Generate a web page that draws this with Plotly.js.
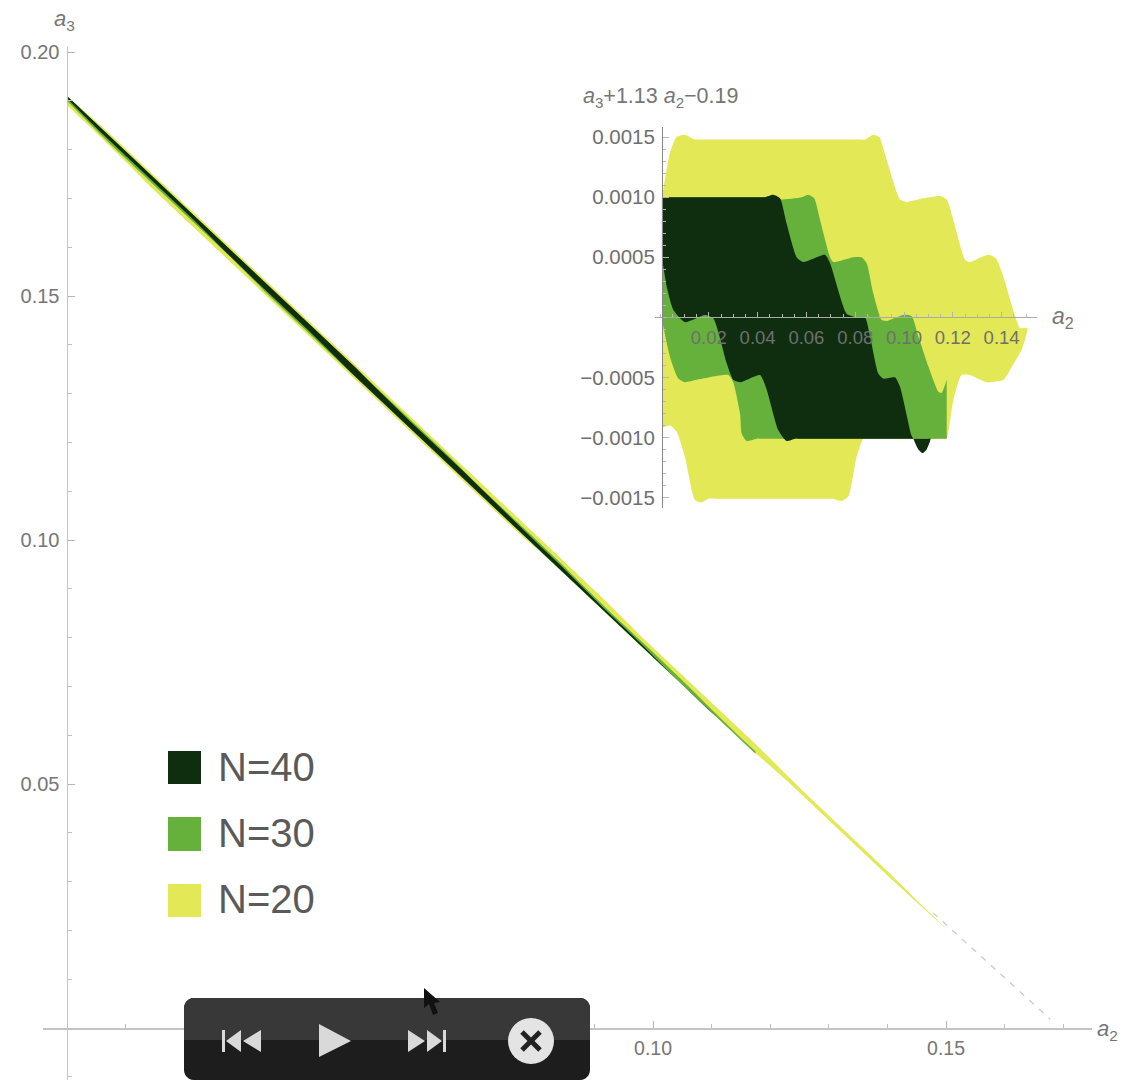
<!DOCTYPE html>
<html><head><meta charset="utf-8">
<script src="https://cdn.plot.ly/plotly-3.0.1.min.js"></script>
<style>html,body{margin:0;padding:0;background:#fff}#c{width:1123px;height:1080px}</style>
</head><body><div id="c"></div>
<script>
// Values: a2 and the residual a3+1.13 a2-0.19 along each region's boundary
const n20A2 = [.0008,.0041,.0068,.0102,.0143,.0170,.0810,.0840,.0874,.0899,.0922,.0984,.1011,.1079,.1147,.1175,.1250,.1270,.1345,.1377,.1407,.1455,.1475,.1505,.1482,.1434,.1407,.1339,.1270,.1236,.1202,.1175,.1165,.0845,.0833,.0806,.0772,.0744,.0710,.0690,.0225,.0198,.0171,.0143,.0102,.0068,.0041,.0008];
const n20R  = [.00100,.00137,.00150,.00152,.00148,.00148,.00148,.00148,.00152,.00150,.00136,.00098,.00096,.00099,.00101,.00098,.00048,.00046,.00052,.00049,.00034,.00001,-.00009,-.00009,-.00027,-.00044,-.00052,-.00054,-.00048,-.00048,-.00069,-.00101,-.00101,-.00101,-.00101,-.00116,-.00149,-.00153,-.00151,-.00151,-.00151,-.00151,-.00154,-.00152,-.00116,-.00095,-.00090,-.00092];
const n30A2 = [.0008,.0020,.0420,.0437,.0492,.0581,.0608,.0632,.0656,.0697,.0710,.0792,.0826,.0847,.0874,.0908,.0929,.0997,.1031,.1059,.1100,.1141,.1154,.1172,.1175,.1175,.1175,.1175,.1160,.0410,.0396,.0355,.0335,.0328,.0300,.0280,.0150,.0102,.0075,.0041,.0008];
const n30R  = [.00100,.00100,.00100,.00100,.00098,.00100,.00102,.00099,.00081,.00050,.00046,.00050,.00050,.00045,.00020,-.00002,-.00003,.00002,.00001,-.00016,-.00041,-.00062,-.00063,-.00054,-.00052,-.00056,-.00097,-.00101,-.00101,-.00101,-.00101,-.00103,-.00097,-.00080,-.00054,-.00048,-.00052,-.00054,-.00051,-.00033,-.00002];
const n40A2 = [.0008,.0020,.0415,.0430,.0464,.0492,.0519,.0560,.0587,.0676,.0697,.0765,.0806,.0840,.0861,.0895,.0915,.0963,.0984,.1030,.1038,.1059,.1076,.1093,.1109,.1100,.1038,.0565,.0553,.0519,.0485,.0437,.0410,.0328,.0300,.0273,.0219,.0184,.0102,.0055,.0027,.0008];
const n40R  = [.00100,.00100,.00100,.00100,.00102,.00099,.00078,.00050,.00046,.00052,.00045,.00003,.00000,.00000,-.00016,-.00047,-.00051,-.00050,-.00058,-.00098,-.00101,-.00110,-.00113,-.00110,-.00101,-.00101,-.00101,-.00101,-.00101,-.00103,-.00094,-.00060,-.00048,-.00054,-.00052,-.00038,-.00001,.00002,-.00004,.00006,.00026,.00050];
const tailA2 = [.1478,.1678];
const tailA3 = [.0236,.0018];
const seriesNames = ['N=40','N=30','N=20'];
const seriesColors = ['#0f2e10','#66b03c','#e2e856'];
const mainXTicks = [.05,.10,.15];
const mainYTicks = [.05,.10,.15,.20];
const insetXTicks = [.02,.04,.06,.08,.10,.12,.14];
const insetYTicks = [-.0015,-.0010,-.0005,.0005,.0010,.0015];

const W=1123,H=1080, L=43,R=1092,T=47,B=1080;
const fx=x=>(x-L)/(R-L), fy=y=>(B-y)/(B-T);   // plot-area paper coordinates
const toMainX=a=>a.map(v=>v===.0008?0:v);     // the inset's left edge is the a2=0 edge of the main plot
const toA3=(a,r)=>a.map((v,i)=>0.19-1.13*v+r[i]);
const grey='#767676', fam='"Liberation Sans",Arial,sans-serif';

function band(x,y,color,xa,ya,smooth){
  return {type:'scatter',mode:'lines',x:x,y:y,fill:'toself',fillcolor:color,
    line:{width:0,color:color,shape:smooth?'spline':'linear',smoothing:.55},
    xaxis:xa,yaxis:ya,hoverinfo:'skip',showlegend:false};
}
const traces=[
  band(toMainX(n20A2),toA3(toMainX(n20A2),n20R),seriesColors[2],'x','y'),
  band(toMainX(n30A2),toA3(toMainX(n30A2),n30R),seriesColors[1],'x','y'),
  band(toMainX(n40A2),toA3(toMainX(n40A2),n40R),seriesColors[0],'x','y'),
  {type:'scatter',mode:'lines',x:tailA2,y:tailA3,line:{color:'#c8c8c8',width:1.2,dash:'6px,7px'},xaxis:'x',yaxis:'y',hoverinfo:'skip',showlegend:false},
  band(n20A2,n20R,seriesColors[2],'x2','y2',true),
  band(n30A2,n30R,seriesColors[1],'x2','y2',true),
  band(n40A2,n40R,seriesColors[0],'x2','y2',true)
];

// decoration: legend swatches and the video player bar on top of the screenshot
function rect(x0,y0,x1,y1,c){return {type:'rect',xref:'paper',yref:'paper',x0:fx(x0),x1:fx(x1),y0:fy(y0),y1:fy(y1),fillcolor:c,line:{width:0},layer:'above'};}
function poly(pts,c,close=true,lw=0){
  const d=pts.map((p,i)=>(i?'L':'M')+fx(p[0]).toFixed(5)+','+fy(p[1]).toFixed(5)).join(' ')+(close?' Z':'');
  return {type:'path',xref:'paper',yref:'paper',path:d,fillcolor:close?c:'rgba(0,0,0,0)',line:{width:lw,color:c},layer:'above'};
}
function rounded(x0,y0,x1,y1,r,c){
  const pts=[];const arc=(cx,cy,a0)=>{for(let k=0;k<=6;k++){const a=a0+k*Math.PI/12;pts.push([cx+r*Math.cos(a),cy+r*Math.sin(a)]);}};
  arc(x0+r,y0+r,Math.PI);arc(x1-r,y0+r,1.5*Math.PI);arc(x1-r,y1-r,0);arc(x0+r,y1-r,.5*Math.PI);
  return poly(pts,c);
}
function circle(cx,cy,r,c){return {type:'circle',xref:'paper',yref:'paper',x0:fx(cx-r),x1:fx(cx+r),y0:fy(cy+r),y1:fy(cy-r),fillcolor:c,line:{width:0},layer:'above'};}
const ic='#d9d9d9';
const shapes=[
  rect(168,751,201,784,seriesColors[0]),
  rect(168,817,201,851,seriesColors[1]),
  rect(168,884,201,917,seriesColors[2]),
  rounded(184,998,590,1080,10,'#1d1d1d'),
  rounded(184,998,590,1040,10,'#383838'),
  rect(184,1030,590,1040,'#383838'),
  // previous
  rect(222,1030,225,1052,ic), poly([[241,1030],[241,1052],[226,1041]],ic), poly([[261,1030],[261,1052],[243,1041]],ic),
  // play
  poly([[319,1024],[319,1057],[351,1041]],ic),
  // next
  rect(443,1030,446,1052,ic), poly([[408,1030],[408,1052],[425,1041]],ic), poly([[427,1030],[427,1052],[442,1041]],ic),
  // close
  circle(531,1041,23,'#e4e4e4'),
  poly([[522,1032],[540,1050]],'#222',false,5), poly([[540,1032],[522,1050]],'#222',false,5),
  // pointer
  poly([[424,988],[424,1008],[429,1004],[433,1015],[438,1013],[434,1003],[440,1002]],'#111')
];
function note(x,y,text,size,anchor='center',color=grey){
  return {xref:'paper',yref:'paper',x:fx(x),y:fy(y),text:text,showarrow:false,xanchor:anchor,yanchor:'middle',
    font:{family:fam,size:size,color:color},align:'left'};
}
const annotations=[
  note(64,20,'<i>a</i><sub>3</sub>',22),
  note(1107,1030,'<i>a</i><sub>2</sub>',22),
  note(581,97,'<i>a</i><sub>3</sub>+1.13 <i>a</i><sub>2</sub>\u22120.19',21.5,'left'),
  note(1063,318,'<i>a</i><sub>2</sub>',23),
  note(216,767,seriesNames[0],40,'left','#5a5a5a'),
  note(216,833,seriesNames[1],40,'left','#5a5a5a'),
  note(216,899,seriesNames[2],40,'left','#5a5a5a')
];
const axisBase={showgrid:false,zeroline:false,showline:true,linecolor:'#c4c4c4',linewidth:1.5,ticks:'inside',tickcolor:'#b4b4b4',tickwidth:1,anchor:'free'};
const layout={
  width:W,height:H,margin:{l:L,r:W-R,t:T,b:H-B,pad:0},paper_bgcolor:'#fff',plot_bgcolor:'#fff',showlegend:false,
  xaxis:{...axisBase,domain:[0,1],range:[(L-67)/5860,(R-67)/5860],position:fy(1028),tickmode:'array',tickvals:mainXTicks,tickformat:'.2f',ticklen:7,ticklabelstandoff:2,
    tickfont:{family:fam,size:19.5,color:grey},minor:{ticks:'inside',ticklen:4,dtick:.01,tick0:0,tickcolor:'#c0c0c0',showgrid:false}},
  yaxis:{...axisBase,domain:[0,1],range:[(1028-B)/4880,(1028-T)/4880],position:fx(66.5),tickmode:'array',tickvals:mainYTicks,tickformat:'.2f',ticklen:7,ticklabelstandoff:3,
    tickfont:{family:fam,size:20,color:grey},minor:{ticks:'inside',ticklen:4,dtick:.01,tick0:0,tickcolor:'#c0c0c0',showgrid:false}},
  xaxis2:{...axisBase,linecolor:'#aaaaaa',linewidth:1,domain:[fx(655),fx(1037)],range:[(655-660)/2440,(1037-660)/2440],position:fy(317.3),tickmode:'array',tickvals:insetXTicks,tickformat:'.2f',ticklen:5,ticklabelstandoff:3,
    tickfont:{family:fam,size:18.5,color:'#6f6f6f'},minor:{ticks:'inside',ticklen:3,dtick:.005,tick0:0,tickcolor:'#b8b8b8',showgrid:false}},
  yaxis2:{...axisBase,linecolor:'#888888',linewidth:1,domain:[fy(508),fy(127)],range:[(317.3-508)/120140,(317.3-127)/120140],position:fx(662),tickmode:'array',tickvals:insetYTicks,tickformat:'.4f',ticklen:6,ticklabelstandoff:3,
    tickfont:{family:fam,size:20.5,color:'#6f6f6f'},minor:{ticks:'inside',ticklen:3,dtick:.0001,tick0:0,tickcolor:'#b8b8b8',showgrid:false}},
  shapes:shapes,annotations:annotations
};
Plotly.newPlot('c',traces,layout,{displayModeBar:false,staticPlot:true});
</script></body></html>
